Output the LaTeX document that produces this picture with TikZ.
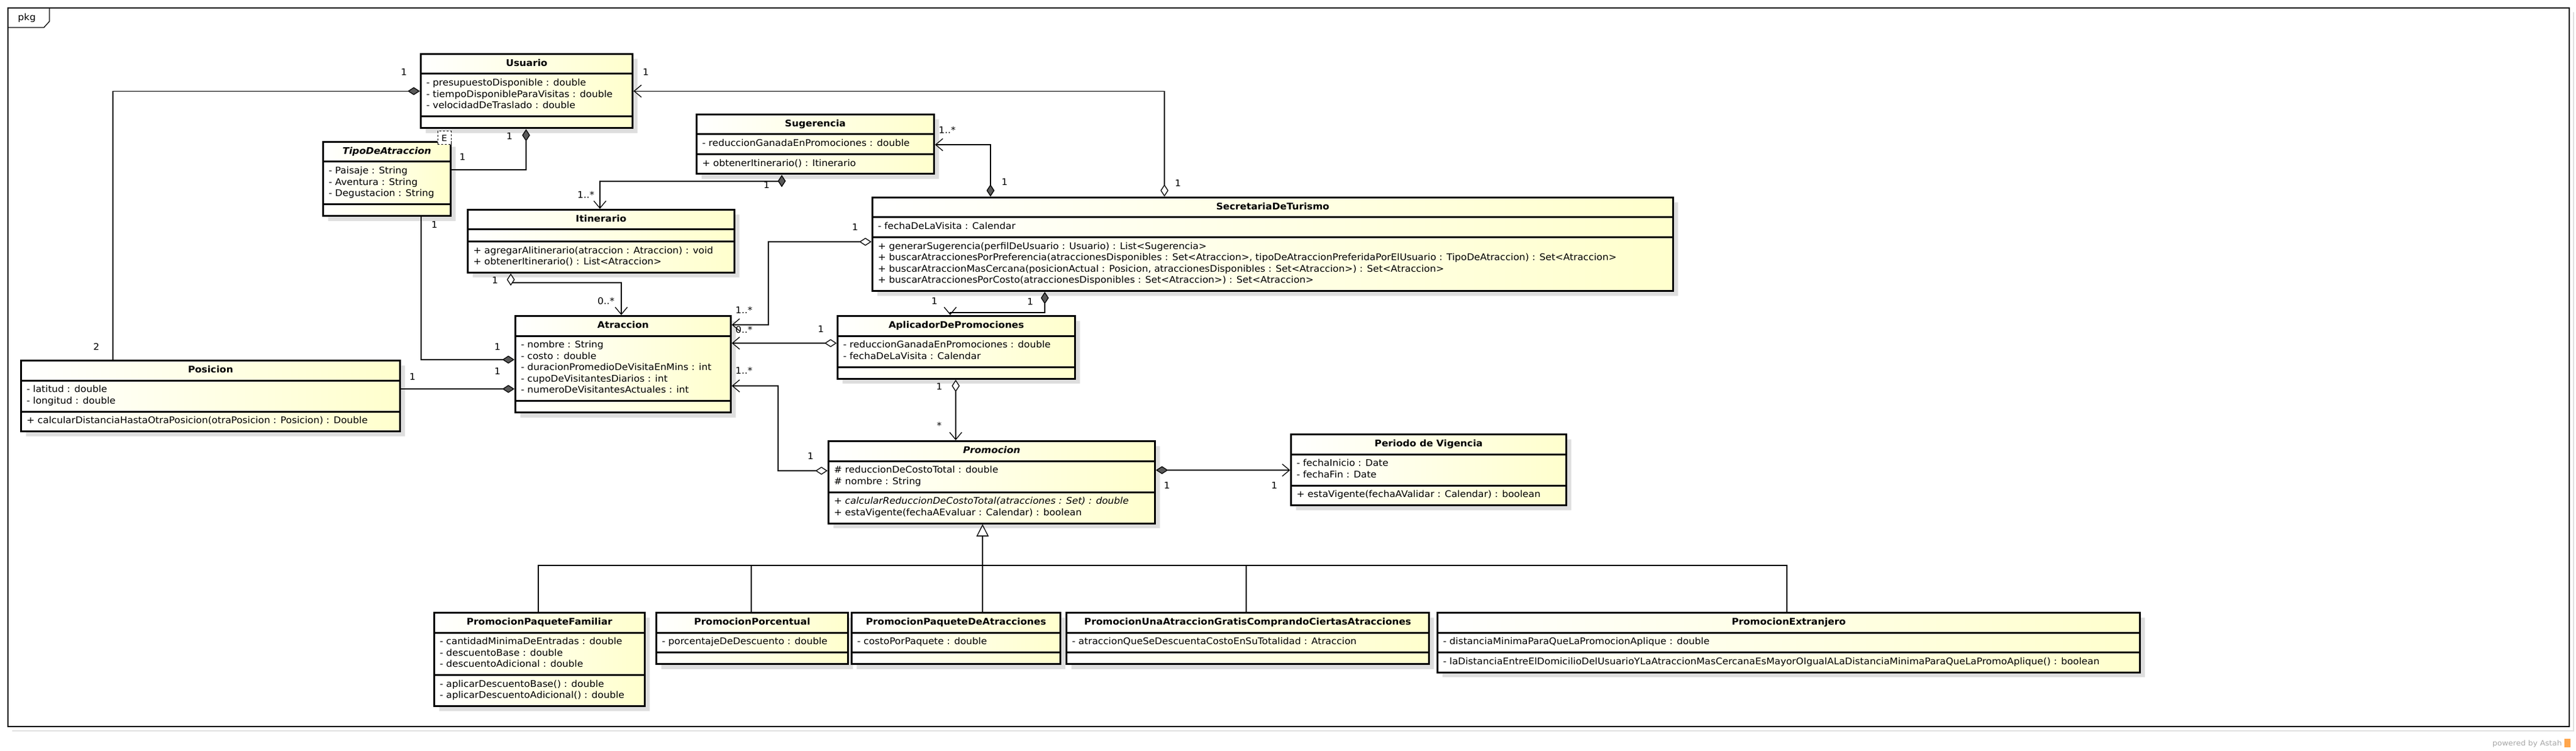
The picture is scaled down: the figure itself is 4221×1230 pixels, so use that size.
\documentclass[tikz,border=0pt]{standalone}
\usepackage{fontspec}
\setmainfont{DejaVu Sans}[FakeStretch=1.05]
\usetikzlibrary{shapes.multipart,arrows.meta,shadows}
\definecolor{umlyellow}{RGB}{255,255,205}

\begin{document}
\begin{tikzpicture}[x=1pt, y=-1pt,
    uml/.style={rectangle split, rectangle split parts=3,
        rectangle split part align={center,left,left},
        rectangle split empty part height=4pt,
        rectangle split empty part depth=0pt,
        draw=black, line width=3pt, left color=white, right color=umlyellow,
        drop shadow={shadow xshift=8pt, shadow yshift=-8pt, fill=black!13, opacity=1},
        anchor=north west, align=left, inner xsep=9pt, inner ysep=5.5pt,
        font=\fontsize{15}{18.5}\selectfont},
    mult/.style={inner sep=0pt, font=\fontsize{15}{17}\selectfont},
    link/.style={line width=1.3pt},
    comp/.style={link, {Diamond[length=20pt,width=13pt,fill=black!65]}-},
    compnav/.style={link, {Diamond[length=20pt,width=13pt,fill=black!65]}-{Straight Barb[length=12pt,width=20pt]}},
    aggnav/.style={link, {Diamond[length=20pt,width=13pt,fill=white]}-{Straight Barb[length=12pt,width=20pt]}},
    gen/.style={link, -{Triangle[open,length=20pt,width=20pt]}}
]
    \useasboundingbox (0,0) rectangle (4221,1230);
    % frame
    \draw[black!12, line width=2pt] (4217,20) -- (4217,1197) -- (20,1197);
    \draw[line width=1.3pt] (13,13) rectangle (4210,1190);
    \draw[line width=1.3pt] (13,45) -- (72,45) -- (81,35) -- (81,13);
    \node[mult] (pkg) at (44,29) {pkg};

    % classes
    \node[uml, minimum width=347pt] (usuario) at (688,87) {\strut\textbf{Usuario}%
        \nodepart{second}\strut- presupuestoDisponible : double\\\strut- tiempoDisponibleParaVisitas : double\\\strut- velocidadDeTraslado : double%
        \nodepart{third}};
    \node[uml, minimum width=209pt] (tipo) at (528,231) {\strut\textbf{\textit{TipoDeAtraccion}}%
        \nodepart{second}\strut- Paisaje : String\\\strut- Aventura : String\\\strut- Degustacion : String%
        \nodepart{third}};
    \node[draw, dashed, line width=1pt, fill=white, inner sep=0pt, minimum width=22pt,
        minimum height=22pt, font=\fontsize{14}{17}\selectfont] (tipoE) at (728,226) {E};
    \node[uml, minimum width=389pt] (sugerencia) at (1140,186) {\strut\textbf{Sugerencia}%
        \nodepart{second}\strut- reduccionGanadaEnPromociones : double%
        \nodepart{third}\strut+ obtenerItinerario() : Itinerario};
    \node[uml, minimum width=437pt] (itinerario) at (765,342) {\strut\textbf{Itinerario}%
        \nodepart{second}%
        \nodepart{third}\strut+ agregarAlitinerario(atraccion : Atraccion) : void\\\strut+ obtenerItinerario() : List<Atraccion>};
    \node[uml, minimum width=1312pt] (secretaria) at (1428,322) {\strut\textbf{SecretariaDeTurismo}%
        \nodepart{second}\strut- fechaDeLaVisita : Calendar%
        \nodepart{third}\strut+ generarSugerencia(perfilDeUsuario : Usuario) : List<Sugerencia>\\\strut+ buscarAtraccionesPorPreferencia(atraccionesDisponibles : Set<Atraccion>, tipoDeAtraccionPreferidaPorElUsuario : TipoDeAtraccion) : Set<Atraccion>\\\strut+ buscarAtraccionMasCercana(posicionActual : Posicion, atraccionesDisponibles : Set<Atraccion>) : Set<Atraccion>\\\strut+ buscarAtraccionesPorCosto(atraccionesDisponibles : Set<Atraccion>) : Set<Atraccion>};
    \node[uml, minimum width=353pt] (atraccion) at (843,516) {\strut\textbf{Atraccion}%
        \nodepart{second}\strut- nombre : String\\\strut- costo : double\\\strut- duracionPromedioDeVisitaEnMins : int\\\strut- cupoDeVisitantesDiarios : int\\\strut- numeroDeVisitantesActuales : int%
        \nodepart{third}};
    \node[uml, minimum width=621pt] (posicion) at (33,589) {\strut\textbf{Posicion}%
        \nodepart{second}\strut- latitud : double\\\strut- longitud : double%
        \nodepart{third}\strut+ calcularDistanciaHastaOtraPosicion(otraPosicion : Posicion) : Double};
    \node[uml, minimum width=389pt] (aplicador) at (1371,516) {\strut\textbf{AplicadorDePromociones}%
        \nodepart{second}\strut- reduccionGanadaEnPromociones : double\\\strut- fechaDeLaVisita : Calendar%
        \nodepart{third}};
    \node[uml, minimum width=535pt] (promocion) at (1356,721) {\strut\textbf{\textit{Promocion}}%
        \nodepart{second}\strut\# reduccionDeCostoTotal : double\\\strut\# nombre : String%
        \nodepart{third}\strut+ \textit{calcularReduccionDeCostoTotal(atracciones : Set) : double}\\\strut+ estaVigente(fechaAEvaluar : Calendar) : boolean};
    \node[uml, minimum width=451pt] (periodo) at (2114,710) {\strut\textbf{Periodo de Vigencia}%
        \nodepart{second}\strut- fechaInicio : Date\\\strut- fechaFin : Date%
        \nodepart{third}\strut+ estaVigente(fechaAValidar : Calendar) : boolean};
    \node[uml, minimum width=345pt] (familiar) at (710,1002) {\strut\textbf{PromocionPaqueteFamiliar}%
        \nodepart{second}\strut- cantidadMinimaDeEntradas : double\\\strut- descuentoBase : double\\\strut- descuentoAdicional : double%
        \nodepart{third}\strut- aplicarDescuentoBase() : double\\\strut- aplicarDescuentoAdicional() : double};
    \node[uml, minimum width=314pt] (porcentual) at (1074,1002) {\strut\textbf{PromocionPorcentual}%
        \nodepart{second}\strut- porcentajeDeDescuento : double%
        \nodepart{third}};
    \node[uml, minimum width=342pt] (paquete) at (1394,1002) {\strut\textbf{PromocionPaqueteDeAtracciones}%
        \nodepart{second}\strut- costoPorPaquete : double%
        \nodepart{third}};
    \node[uml, minimum width=594pt] (gratis) at (1746,1002) {\strut\textbf{PromocionUnaAtraccionGratisComprandoCiertasAtracciones}%
        \nodepart{second}\strut- atraccionQueSeDescuentaCostoEnSuTotalidad : Atraccion%
        \nodepart{third}};
    \node[uml, minimum width=1151pt] (extranjero) at (2354,1002) {\strut\textbf{PromocionExtranjero}%
        \nodepart{second}\strut- distanciaMinimaParaQueLaPromocionAplique : double%
        \nodepart{third}\strut- laDistanciaEntreElDomicilioDelUsuarioYLaAtraccionMasCercanaEsMayorOIgualALaDistanciaMinimaParaQueLaPromoAplique() : boolean};

    % associations
    \draw[comp] (usuario.west) -| (185,0 |- posicion.north);
    \draw[comp] (862,0 |- usuario.south) |- (tipo.east |- 0,278);
    \draw[comp] (atraccion.west |- 0,589) -| (690,0 |- tipo.south);
    \draw[comp] (atraccion.west |- 0,637) -- (posicion.east |- 0,637);
    \draw[aggnav] (837,0 |- itinerario.south) -- (837,463) -| (1018,0 |- atraccion.north);
    \draw[compnav] (1281,0 |- sugerencia.south) -- (1281,297) -| (983,0 |- itinerario.north);
    \draw[compnav] (1623,0 |- secretaria.north) |- (sugerencia.east |- 0,237);
    \draw[aggnav] (1908,0 |- secretaria.north) |- (usuario.east);
    \draw[aggnav] (secretaria.west |- 0,396) -| (1259,532) -- (atraccion.east |- 0,532);
    \draw[compnav] (1712,0 |- secretaria.south) |- (1557,512) -- (1557,0 |- aplicador.north);
    \draw[aggnav] (aplicador.west |- 0,562) -- (atraccion.east |- 0,562);
    \draw[aggnav] (1566,0 |- aplicador.south) -- (1566,0 |- promocion.north);
    \draw[aggnav] (promocion.west |- 0,771) -| (1275,632) -- (atraccion.east |- 0,632);
    \draw[compnav] (promocion.east |- 0,770) -- (periodo.west |- 0,770);

    % generalization
    \coordinate (bus) at (1610,926);
    \draw[gen] (bus) -- (bus |- promocion.south);
    \draw[link] (882,0 |- familiar.north) |- (bus);
    \draw[link] (1231,0 |- porcentual.north) |- (bus);
    \draw[link] (1610,0 |- paquete.north) -- (bus);
    \draw[link] (2042,0 |- gratis.north) |- (bus);
    \draw[link] (2928,0 |- extranjero.north) |- (bus);

    % multiplicities
    \node[mult] (ua) at (662,118) {1};
    \node[mult] (pa) at (158,568) {2};
    \node[mult] (ub) at (835,223) {1};
    \node[mult] (tb) at (758,257) {1};
    \node[mult] (tc) at (712,368) {1};
    \node[mult] (ac) at (815,568) {1};
    \node[mult] (pd) at (676,617) {1};
    \node[mult] (ad) at (815,608) {1};
    \node[mult] (ie) at (811,459) {1};
    \node[mult] (ae) at (993,493) {0..*};
    \node[mult] (sf) at (1256,303) {1};
    \node[mult] (if) at (960,319) {1..*};
    \node[mult] (sg) at (1552,213) {1..*};
    \node[mult] (stg) at (1646,298) {1};
    \node[mult] (uh) at (1058,118) {1};
    \node[mult] (sth) at (1930,300) {1};
    \node[mult] (sti) at (1401,372) {1};
    \node[mult] (ai) at (1219,508) {1..*};
    \node[mult] (pj) at (1531,493) {1};
    \node[mult] (stj) at (1688,494) {1};
    \node[mult] (pk) at (1345,539) {1};
    \node[mult] (ak) at (1219,540) {0..*};
    \node[mult] (pl) at (1539,633) {1};
    \node[mult] (ql) at (1539,697) {*};
    \node[mult] (qm) at (1328,747) {1};
    \node[mult] (am) at (1219,607) {1..*};
    \node[mult] (qn) at (1912,795) {1};
    \node[mult] (vn) at (2088,795) {1};

    % footer
    \node[inner sep=0pt, text=black!35, font=\fontsize{12}{14}\selectfont, anchor=east] (astah) at (4198,1218) {powered by Astah};
    \node[fill=orange!70, inner sep=0pt, minimum width=10pt, minimum height=14pt] (logo) at (4207,1217) {};
\end{tikzpicture}
\end{document}
